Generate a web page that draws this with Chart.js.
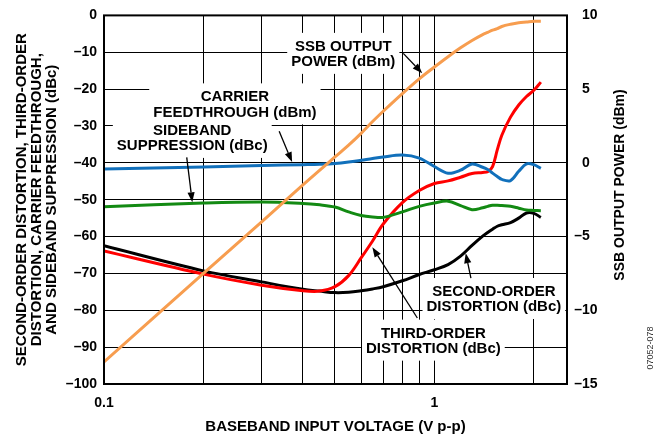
<!DOCTYPE html>
<html>
<head>
<meta charset="utf-8">
<script src="https://cdn.jsdelivr.net/npm/chart.js@4/dist/chart.umd.min.js"></script>
<style>
  html, body { margin: 0; padding: 0; background: #fff; }
  #wrap { width: 668px; height: 442px; position: relative; }
</style>
</head>
<body>
<div id="wrap"><canvas id="c"></canvas></div>
<script>
// Baseband input voltage (V p-p) at which each curve is sampled
const voltage = [0.1, 0.2, 0.3, 0.4, 0.45, 0.5, 0.55, 0.6, 0.65, 0.7, 0.8, 0.9, 1.0,
                 1.1, 1.2, 1.3, 1.4, 1.45, 1.5, 1.55, 1.6, 1.7, 1.8, 1.9, 2.0, 2.1];

// Left axis series (dBm / dBc)
const carrierFeedthrough = [-41.7, -41.1, -40.7, -40.5, -40.4, -40.2, -39.8, -39.3, -38.8, -38.4, -37.9, -38.7, -41.0,
                            -42.8, -42.0, -40.3, -41.2, -41.8, -42.8, -43.7, -44.5, -44.8, -42.3, -40.3, -40.5, -41.5];
const sidebandSuppression = [-51.9, -50.9, -50.6, -51.0, -51.4, -52.0, -53.3, -54.3, -54.7, -54.8, -53.3, -51.8, -50.9,
                             -50.4, -51.6, -52.7, -52.2, -51.8, -51.5, -51.5, -51.6, -51.8, -52.3, -52.8, -52.9, -53.0];
const thirdOrder = [-63.9, -70.2, -73.2, -74.7, -74.8, -73.6, -70.6, -65.8, -61.2, -56.6, -50.8, -47.5, -45.6,
                    -44.9, -43.9, -42.9, -42.6, -42.4, -41.0, -36.5, -32.5, -27.6, -24.3, -22.0, -20.3, -18.1];
const secondOrder = [-62.5, -69.3, -72.3, -74.3, -74.8, -75.2, -75.1, -74.7, -74.2, -73.6, -72.0, -70.3, -69.0,
                     -67.6, -65.3, -62.4, -59.9, -58.9, -58.0, -57.2, -56.8, -56.2, -55.0, -53.6, -53.7, -54.8];

// Right axis series (dBm)
const ssbOutputPower = [-13.5, -7.5, -4.0, -1.5, -0.5, 0.4, 1.2, 2.0, 2.8, 3.5, 4.7, 5.7, 6.5,
                        7.2, 7.8, 8.3, 8.7, 8.85, 9.0, 9.1, 9.25, 9.4, 9.5, 9.55, 9.6, 9.6];

// Axis ticks
const xGridValues = [0.1, 0.2, 0.3, 0.4, 0.5, 0.6, 0.7, 0.8, 0.9, 1, 2];
const xLabelValues = [0.1, 1];
const rightTicks = [10, 5, 0, -5, -10, -15];

const BOLD = '"Liberation Sans", Arial, Helvetica, sans-serif';

// Callout text blocks, centred at (voltage, left-axis value)
const callouts = [
  { x: 0.53,  y: -10.3, lines: ['SSB OUTPUT', 'POWER (dBm)'] },
  { x: 0.249, y: -24.0, lines: ['CARRIER', 'FEEDTHROUGH (dBm)'] },
  { x: 0.185, y: -33.1, lines: ['SIDEBAND', 'SUPPRESSION (dBc)'] },
  { x: 1.514, y: -76.8, lines: ['SECOND-ORDER', 'DISTORTION (dBc)'] },
  { x: 0.993, y: -88.1, lines: ['THIRD-ORDER', 'DISTORTION (dBc)'] }
];
// Leader arrows: from [voltage, value] to tip [voltage, value]
const leaders = [
  { from: [0.805, -10.3], to: [0.919, -15.7] },
  { from: [0.339, -31.4], to: [0.371, -39.8] },
  { from: [0.178, -38.5], to: [0.185, -50.7] },
  { from: [1.290, -71.3], to: [1.244, -64.5] },
  { from: [0.888, -82.1], to: [0.649, -62.9] }
];

const pts = (ys) => voltage.map((v, i) => ({ x: v, y: ys[i] }));
const dashLabel = (v) => (v < 0 ? '\u2013' + Math.abs(v) : String(v));

function drawArrow(ctx, x1, y1, x2, y2) {
  const ang = Math.atan2(y2 - y1, x2 - x1);
  const len = 10, half = 3.6;
  const bx = x2 - len * Math.cos(ang), by = y2 - len * Math.sin(ang);
  ctx.beginPath();
  ctx.moveTo(x1, y1);
  ctx.lineTo(bx, by);
  ctx.stroke();
  ctx.beginPath();
  ctx.moveTo(x2, y2);
  ctx.lineTo(bx + half * Math.sin(ang), by - half * Math.cos(ang));
  ctx.lineTo(bx - half * Math.sin(ang), by + half * Math.cos(ang));
  ctx.closePath();
  ctx.fill();
}

const decorations = {
  id: 'decorations',
  beforeDatasetsDraw(chart) {
    const { ctx, scales: { x, y } } = chart;
    ctx.save();
    ctx.font = 'bold 15px ' + BOLD;
    ctx.textAlign = 'center';
    ctx.textBaseline = 'middle';
    const lh = 15.5;
    callouts.forEach(n => {
      const cx = x.getPixelForValue(n.x), cy = y.getPixelForValue(n.y);
      const w = Math.max(...n.lines.map(t => ctx.measureText(t).width));
      const h = lh * n.lines.length;
      ctx.fillStyle = '#fff';
      ctx.fillRect(cx - w / 2 - 4, cy - h / 2 - 5, w + 8, h + 10);
      ctx.fillStyle = '#000';
      n.lines.forEach((t, i) => ctx.fillText(t, cx, cy - h / 2 + lh / 2 + i * lh + 1));
    });
    ctx.restore();
  },
  afterDatasetsDraw(chart) {
    const { ctx, chartArea: a, scales: { x, y } } = chart;
    ctx.save();
    ctx.strokeStyle = '#000';
    ctx.fillStyle = '#000';
    ctx.lineWidth = 1.3;
    leaders.forEach(l => {
      drawArrow(ctx, x.getPixelForValue(l.from[0]), y.getPixelForValue(l.from[1]),
                x.getPixelForValue(l.to[0]), y.getPixelForValue(l.to[1]));
    });
    ctx.lineWidth = 2;
    ctx.strokeRect(a.left, a.top, a.right - a.left, a.bottom - a.top);
    ctx.restore();
  },
  afterDraw(chart) {
    const { ctx, chartArea: a, scales: { y2 } } = chart;
    ctx.save();
    ctx.fillStyle = '#000';
    // right axis tick labels, digits aligned with the minus hanging
    ctx.font = 'bold 14px ' + BOLD;
    ctx.textBaseline = 'middle';
    rightTicks.forEach(v => {
      const py = y2.getPixelForValue(v);
      const x0 = a.right + 15;
      ctx.textAlign = 'left';
      ctx.fillText(String(Math.abs(v)), x0, py);
      if (v < 0) { ctx.textAlign = 'right'; ctx.fillText('\u2013', x0, py); }
    });
    // x axis title
    ctx.font = 'bold 15px ' + BOLD;
    ctx.textAlign = 'center';
    ctx.fillText('BASEBAND INPUT VOLTAGE (V p-p)', (a.left + a.right) / 2, 427);
    // left axis title
    const leftLines = ['SECOND-ORDER DISTORTION, THIRD-ORDER',
                       'DISTORTION, CARRIER FEEDTHROUGH,',
                       'AND SIDEBAND SUPPRESSION (dBc)'];
    ctx.save();
    ctx.translate(0, (a.top + a.bottom) / 2);
    ctx.rotate(-Math.PI / 2);
    leftLines.forEach((t, i) => ctx.fillText(t, 0, 22 + i * 15));
    ctx.restore();
    // right axis title
    ctx.save();
    ctx.translate(620, 185);
    ctx.rotate(-Math.PI / 2);
    ctx.font = 'bold 14px ' + BOLD;
    ctx.fillText('SSB OUTPUT POWER (dBm)', 0, 0);
    ctx.restore();
    // figure number
    ctx.save();
    ctx.translate(651, 348);
    ctx.rotate(-Math.PI / 2);
    ctx.font = '9px ' + BOLD;
    ctx.fillStyle = '#333';
    ctx.fillText('07052-078', 0, 0);
    ctx.restore();
    ctx.restore();
  }
};

const lineStyle = { borderWidth: 3, pointRadius: 0, tension: 0.35, fill: false };

new Chart(document.getElementById('c'), {
  type: 'line',
  data: {
    datasets: [
      { label: 'SSB OUTPUT POWER (dBm)', data: pts(ssbOutputPower), borderColor: '#f79d4f', yAxisID: 'y2', ...lineStyle },
      { label: 'CARRIER FEEDTHROUGH (dBm)', data: pts(carrierFeedthrough), borderColor: '#1170bb', yAxisID: 'y', ...lineStyle },
      { label: 'SIDEBAND SUPPRESSION (dBc)', data: pts(sidebandSuppression), borderColor: '#138a13', yAxisID: 'y', ...lineStyle },
      { label: 'THIRD-ORDER DISTORTION (dBc)', data: pts(thirdOrder), borderColor: '#ff0000', yAxisID: 'y', ...lineStyle },
      { label: 'SECOND-ORDER DISTORTION (dBc)', data: pts(secondOrder), borderColor: '#000000', yAxisID: 'y', ...lineStyle }
    ]
  },
  options: {
    responsive: true,
    maintainAspectRatio: false,
    animation: false,
    devicePixelRatio: 1,
    layout: { padding: { top: 15, left: 0, right: 0, bottom: 0 } },
    plugins: { legend: { display: false }, tooltip: { enabled: false } },
    scales: {
      x: {
        type: 'logarithmic',
        min: 0.1,
        max: 2.52,
        afterBuildTicks: (s) => { s.ticks = xGridValues.map(v => ({ value: v })); },
        afterFit: (s) => { s.height = 58; },
        grid: { color: '#000', lineWidth: 1, drawTicks: false },
        border: { display: false },
        ticks: {
          autoSkip: false, maxRotation: 0, padding: 11, color: '#000',
          font: { family: BOLD, size: 14, weight: 'bold' },
          callback: (v) => (xLabelValues.includes(v) ? String(v) : '')
        }
      },
      y: {
        position: 'left',
        min: -100, max: 0,
        afterFit: (s) => { s.width = 104; },
        grid: { color: '#000', lineWidth: 1, drawTicks: false },
        border: { display: false },
        ticks: {
          stepSize: 10, padding: 7, color: '#000',
          font: { family: BOLD, size: 14, weight: 'bold' },
          callback: (v) => dashLabel(v)
        }
      },
      y2: {
        position: 'right',
        min: -15, max: 10,
        afterFit: (s) => { s.width = 101; },
        grid: { display: false },
        border: { display: false },
        ticks: { display: false, stepSize: 5 }
      }
    }
  },
  plugins: [decorations]
});
</script>
</body>
</html>
